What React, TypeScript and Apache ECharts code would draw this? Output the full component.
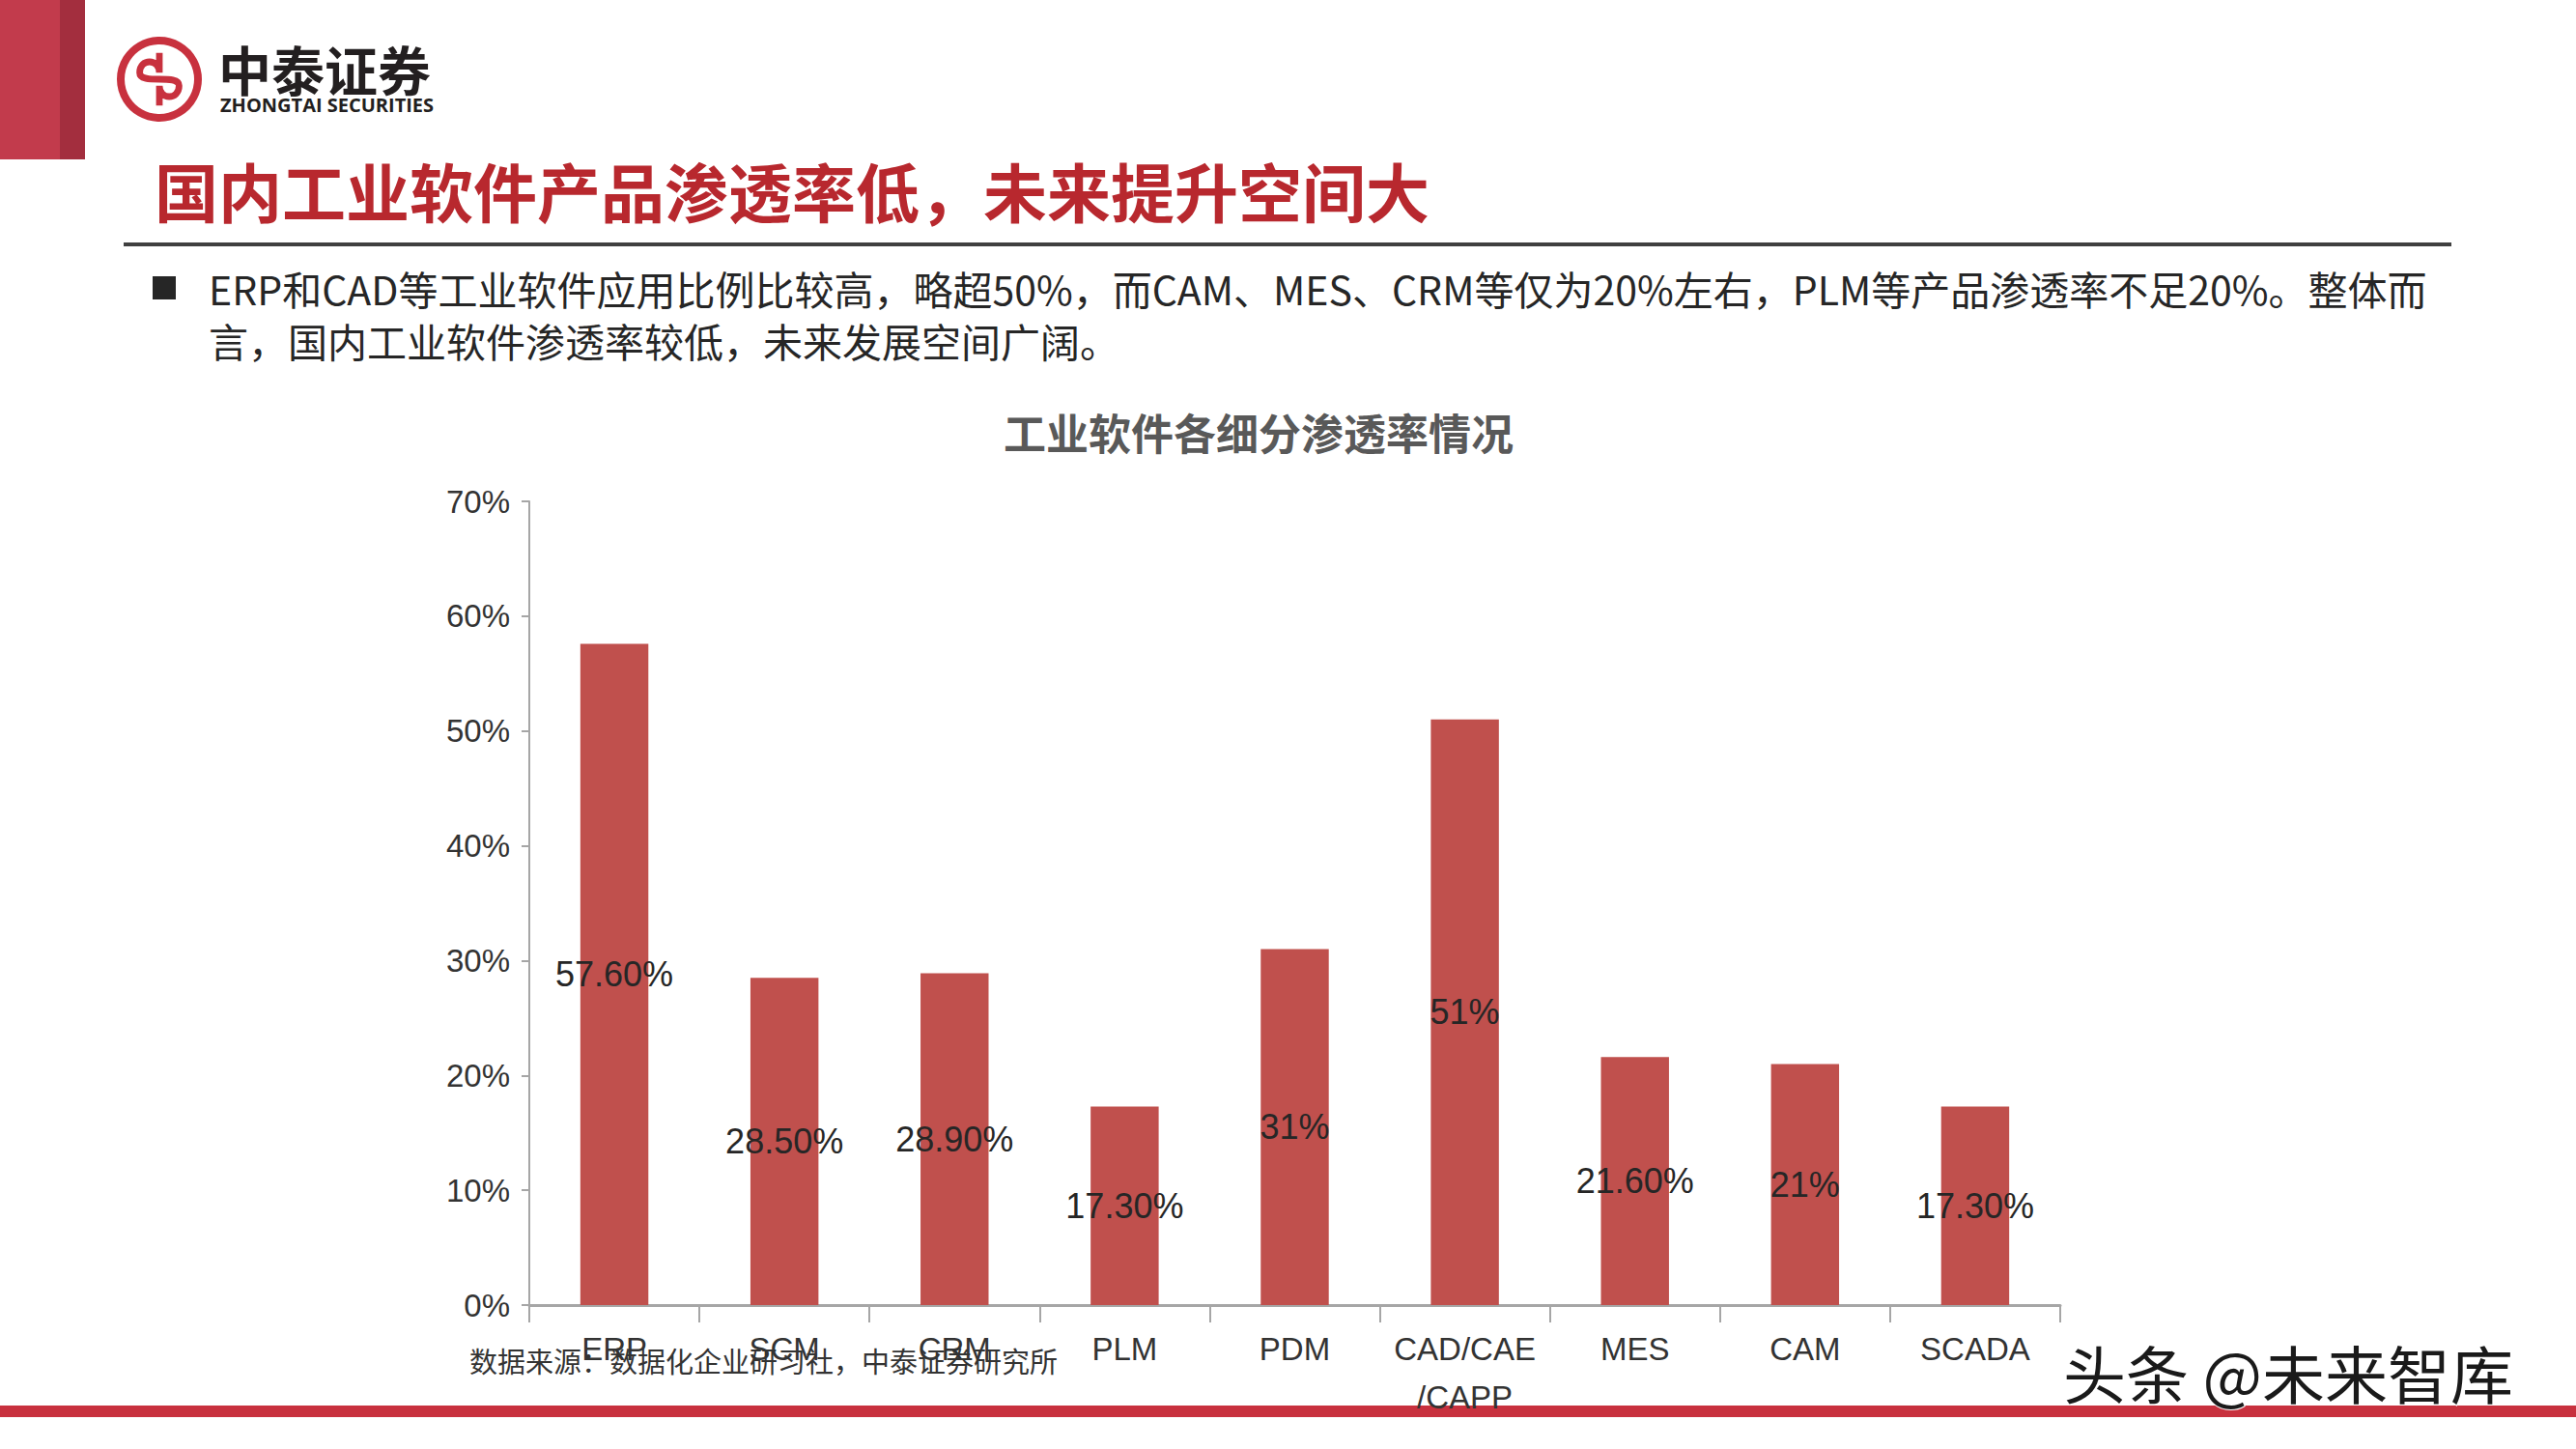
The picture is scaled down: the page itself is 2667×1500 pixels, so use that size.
import React, { useEffect, useRef } from "react";
import * as echarts from "echarts";

const categories = ["ERP", "SCM", "CRM", "PLM", "PDM", "CAD/CAE\n/CAPP", "MES", "CAM", "SCADA"];
const values = [57.6, 28.5, 28.9, 17.3, 31, 51, 21.6, 21, 17.3];
const valueLabels = ["57.60%", "28.50%", "28.90%", "17.30%", "31%", "51%", "21.60%", "21%", "17.30%"];
const yTicks = { min: 0, max: 70, interval: 10 };

const pageTitle = "国内工业软件产品渗透率低，未来提升空间大";
const bulletLine1 = "ERP和CAD等工业软件应用比例比较高，略超50%，而CAM、MES、CRM等仅为20%左右，PLM等产品渗透率不足20%。整体而";
const bulletLine2 = "言，国内工业软件渗透率较低，未来发展空间广阔。";
const chartTitle = "工业软件各细分渗透率情况";
const sourceText = "数据来源：数据化企业研习社，中泰证券研究所";
const watermark = "头条 @未来智库";

const LOGO_D = "M50 10 L50 40 C50 18 20 18 20 40 C20 60 80 40 80 60 C80 82 50 82 50 60 L50 90";
let registered = false;
function ensureShape() {
  if (registered) return;
  registered = true;
  echarts.graphic.registerShape("ztlogo", echarts.graphic.extendPath(LOGO_D, {}));
}

export default function App() {
  const ref = useRef<HTMLDivElement>(null);
  useEffect(() => {
    if (!ref.current) return;
    ensureShape();
    const chart = echarts.init(ref.current, undefined, { renderer: "svg" });
    const cjk = '"Noto Sans CJK SC", sans-serif';
    const narrow = '"Liberation Sans Narrow", "Liberation Sans", Arial, sans-serif';
    chart.setOption({
      animation: false,
      backgroundColor: "#ffffff",
      grid: { left: 548, right: 534, top: 519, bottom: 149, containLabel: false },
      xAxis: {
        type: "category",
        data: categories,
        axisLine: { show: true, lineStyle: { color: "#a6a6a6", width: 3 } },
        axisTick: { show: true, alignWithLabel: false, length: 18, lineStyle: { color: "#a6a6a6", width: 2 } },
        axisLabel: {
          interval: 0,
          margin: 20,
          color: "#333333",
          fontFamily: narrow,
          fontSize: 33,
          lineHeight: 50,
        },
        splitLine: { show: false },
      },
      yAxis: {
        type: "value",
        min: yTicks.min,
        max: yTicks.max,
        interval: yTicks.interval,
        axisLine: { show: true, lineStyle: { color: "#a6a6a6", width: 2 } },
        axisTick: { show: true, length: 8, lineStyle: { color: "#a6a6a6", width: 2 } },
        axisLabel: {
          formatter: "{value}%",
          margin: 20,
          color: "#333333",
          fontFamily: narrow,
          fontSize: 33,
        },
        splitLine: { show: false },
      },
      series: [
        {
          type: "bar",
          data: values,
          barCategoryGap: "60%",
          itemStyle: { color: "#c0504d" },
          label: {
            show: true,
            position: "inside",
            formatter: (p: any) => valueLabels[p.dataIndex],
            color: "#262626",
            fontFamily: narrow,
            fontSize: 36,
          },
        },
      ],
      graphic: [
        { type: "rect", shape: { x: 0, y: 0, width: 62, height: 165 }, style: { fill: "#c23b4c" } },
        { type: "rect", shape: { x: 62, y: 0, width: 26, height: 165 }, style: { fill: "#a32e3e" } },
        { type: "circle", shape: { cx: 165, cy: 82, r: 40 }, style: { fill: "none", stroke: "#c8313e", lineWidth: 8 } },
        {
          type: "ztlogo",
          x: 165 - 34,
          y: 82 - 34,
          scaleX: 0.68,
          scaleY: 0.68,
          style: { fill: "none", stroke: "#c8313e", lineWidth: 10 },
        },
        {
          type: "text",
          x: 226,
          y: 70,
          style: { text: "中泰证券", fontFamily: cjk, fontWeight: "bold", fontSize: 55, fill: "#231f20", textVerticalAlign: "middle" },
        },
        {
          type: "text",
          x: 228,
          y: 108,
          style: { text: "ZHONGTAI SECURITIES", fontFamily: '"Open Sans", sans-serif', fontWeight: "bold", fontSize: 20, fill: "#231f20", textVerticalAlign: "middle" },
        },
        {
          type: "text",
          x: 160,
          y: 196,
          style: { text: pageTitle, fontFamily: cjk, fontWeight: "bold", fontSize: 66, fill: "#b8282e", textVerticalAlign: "middle" },
        },
        { type: "rect", shape: { x: 128, y: 251, width: 2410, height: 4 }, style: { fill: "#404040" } },
        { type: "rect", shape: { x: 158, y: 286, width: 24, height: 24 }, style: { fill: "#262626" } },
        {
          type: "text",
          x: 216,
          y: 298,
          style: { text: bulletLine1, fontFamily: cjk, fontSize: 41, fill: "#262626", textVerticalAlign: "middle" },
        },
        {
          type: "text",
          x: 216,
          y: 352,
          style: { text: bulletLine2, fontFamily: cjk, fontSize: 41, fill: "#262626", textVerticalAlign: "middle" },
        },
        {
          type: "text",
          x: 1303,
          y: 447,
          style: { text: chartTitle, fontFamily: cjk, fontWeight: "bold", fontSize: 44, fill: "#595959", textAlign: "center", textVerticalAlign: "middle" },
        },
        {
          type: "text",
          x: 486,
          y: 1408,
          style: { text: sourceText, fontFamily: cjk, fontSize: 29, fill: "#333333", textVerticalAlign: "middle" },
        },
        { type: "rect", shape: { x: 0, y: 1455, width: 2667, height: 12 }, style: { fill: "#c8313e" } },
        {
          type: "text",
          x: 2136,
          y: 1420,
          style: { text: watermark, fontFamily: cjk, fontSize: 65, fill: "#1a1a1a", stroke: "#ffffff", lineWidth: 2, textVerticalAlign: "middle" },
        },
      ],
    });
    return () => chart.dispose();
  }, []);
  return (
    <div
      ref={ref}
      style={{ position: "fixed", left: 0, top: 0, width: 2667, height: 1500, background: "#ffffff" }}
    />
  );
}
